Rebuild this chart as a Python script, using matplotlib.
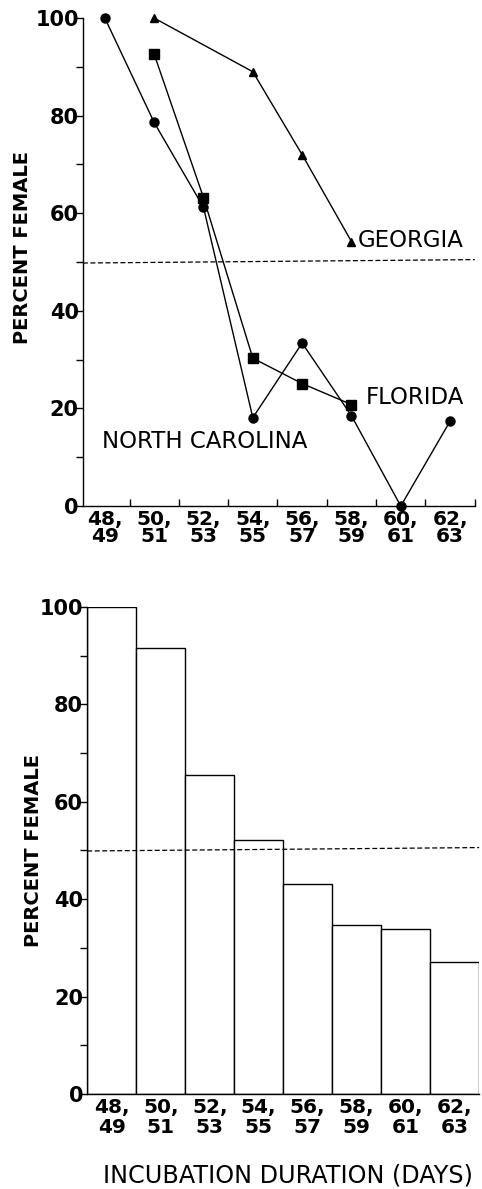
import numpy as np
import matplotlib.pyplot as plt

# incubation duration classes (days)
days = ["48,\n49", "50,\n51", "52,\n53", "54,\n55", "56,\n57", "58,\n59", "60,\n61", "62,\n63"]

# top panel: percent female by state
nc_x = [0, 1, 2, 3, 4, 5, 6, 7]
nc_y = [100, 78.6, 61.2, 18.1, 33.4, 18.5, 0, 17.4]
fl_x = [1, 2, 3, 4, 5]
fl_y = [92.6, 63.2, 30.3, 25.1, 20.8]
ga_x = [1, 3, 4, 5]
ga_y = [100, 89.0, 72.0, 54.2]

# bottom panel: pooled percent female
pooled = [100, 91.5, 65.4, 52.1, 43.1, 34.7, 33.8, 27.1]

plt.rcParams['font.family'] = ['DejaVu Sans']

fig = plt.figure(figsize=(4.82, 11.89), dpi=100)

# ---- top panel
ax1 = fig.add_axes([0.172, 0.5744, 0.813, 0.4104])
ax1.plot(nc_x, nc_y, 'k-', lw=1.0, marker='o', ms=6.5, clip_on=False, zorder=3)
ax1.plot(fl_x, fl_y, 'k-', lw=1.0, marker='s', ms=6.8, clip_on=False, zorder=3)
ax1.plot(ga_x, ga_y, 'k-', lw=1.0, marker='^', ms=6, clip_on=False, zorder=3)
ax1.plot([-0.445, 7.5], [49.8, 50.5], 'k--', lw=0.9, dashes=(4, 2), clip_on=False)

ax1.text(5.12, 54.5, "GEORGIA", fontsize=16.5, va='center', ha='left')
ax1.text(5.28, 22.3, "FLORIDA", fontsize=16.5, va='center', ha='left')
ax1.text(-0.06, 13.3, "NORTH CAROLINA", fontsize=16.5, va='center', ha='left')

ax1.set_xlim(-0.445, 7.49)
ax1.set_ylim(0, 100)

# ---- bottom panel
ax2 = fig.add_axes([0.181, 0.0799, 0.813, 0.4096])
ax2.bar(range(len(pooled)), pooled, width=1.0, facecolor='white',
        edgecolor='black', lw=1.0)
ax2.plot([-0.5, 7.5], [49.9, 50.6], 'k--', lw=0.9, dashes=(4, 2), clip_on=False)
ax2.set_xlim(-0.5, 7.5)
ax2.set_ylim(0, 100)
ax2.set_xlabel("INCUBATION DURATION (DAYS)", fontsize=17.2)
ax2.xaxis.set_label_coords(0.513, -0.142)

for ax in (ax1, ax2):
    for s in ('top', 'right'):
        ax.spines[s].set_visible(False)
    ax.spines['left'].set_linewidth(1.0)
    ax.spines['bottom'].set_linewidth(1.0)
    ax.set_yticks([0, 20, 40, 60, 80, 100])
    ax.set_yticks([10, 30, 50, 70, 90], minor=True)
    ax.tick_params(axis='y', which='both', direction='out', length=5, width=1.0)
    ax.tick_params(axis='y', labelsize=15, pad=-2)
    for lab in ax.get_yticklabels():
        lab.set_fontweight('bold')
    ax.set_ylabel("PERCENT FEMALE", fontsize=14, fontweight='bold')

ax1.yaxis.set_label_coords(-0.13, 0.53)
ax2.yaxis.set_label_coords(-0.112, 0.5)

# top x: boundary ticks inward, labels at centres
ax1.set_xticks(np.arange(0.5, 8, 1.0))
ax1.set_xticklabels([])
ax1.tick_params(axis='x', which='major', direction='in', length=5, width=1.0)
ax1.set_xticks(range(8), minor=True)
ax1.set_xticklabels(days, minor=True, fontsize=14.5, fontweight='bold',
                    linespacing=0.85)
ax1.tick_params(axis='x', which='minor', length=0, pad=3)

ax2.set_xticks(range(8))
ax2.set_xticklabels(days, fontsize=14.5, fontweight='bold', linespacing=1.05)
ax2.tick_params(axis='x', length=0, pad=3)

fig.savefig("out.png", dpi=100)
